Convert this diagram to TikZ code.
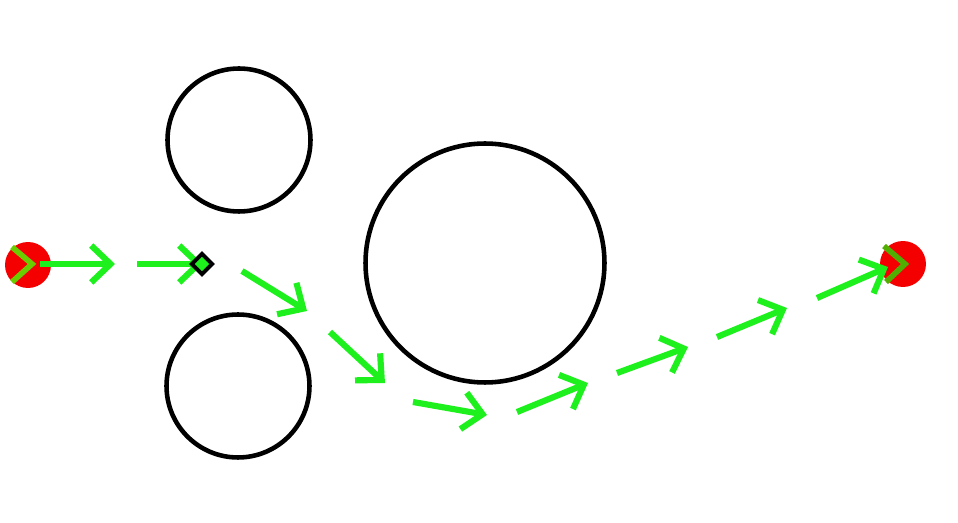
\documentclass[tikz,border=0pt]{standalone}
\usepackage{tikz}
\usetikzlibrary{arrows.meta,shapes.geometric,positioning}
\definecolor{pathgreen}{RGB}{30,240,30}
\definecolor{dotred}{RGB}{245,0,0}
\definecolor{tipgreen}{RGB}{105,205,0}
\definecolor{tipdark}{RGB}{80,175,0}

\begin{document}
\begin{tikzpicture}[x=0.02cm,y=-0.02cm,
  obstacle/.style={draw,circle,line width=2.6pt,inner sep=0pt},
  endpoint/.style={circle,fill=dotred,inner sep=0pt,minimum size=0.92cm},
  leg/.style={pathgreen,line width=3.5pt,-{Straight Barb[length=11pt,width=21pt]}},
  chev/.style={line width=3.2pt,line join=miter}]
\useasboundingbox (0,0) rectangle (958,523);
% obstacles
\node[obstacle,minimum size=2.86cm] (obsA) at (239,140) {};
\node[obstacle,minimum size=2.86cm] (obsB) at (238,386) {};
\node[obstacle,minimum size=4.78cm] (obsC) at (485,263) {};
% start and goal
\node[endpoint] (start) at (28,265) {};
\node[endpoint] (goal) at (903,264) {};
\draw[chev,tipgreen] (12,247) -- (32,264) -- (12,282);
% legs of the path
\coordinate (p1) at (40,264);  \coordinate (q1) at (115,264);
\coordinate (p2) at (137,264); \coordinate (q2) at (203,264);
\coordinate (p3) at (242,271); \coordinate (q3) at (307,311);
\coordinate (p4) at (330,332); \coordinate (q4) at (385,383);
\coordinate (p5) at (413,402); \coordinate (q5) at (487,415);
\coordinate (p6) at (517,412); \coordinate (q6) at (588,383);
\coordinate (p7) at (617,373); \coordinate (q7) at (688,347);
\coordinate (p8) at (717,337); \coordinate (q8) at (787,308);
\coordinate (p9) at (817,298); \coordinate (q9) at (888,267);
\draw[leg] (p1) -- (q1);
\draw[leg] (p2) -- (q2);
\draw[leg] (p3) -- (q3);
\draw[leg] (p4) -- (q4);
\draw[leg] (p5) -- (q5);
\draw[leg] (p6) -- (q6);
\draw[leg] (p7) -- (q7);
\draw[leg] (p8) -- (q8);
\draw[leg] (p9) -- (q9);
\draw[chev,tipdark] (884,246) -- (905,264) -- (886,282);
% waypoint
\node[diamond,draw,line width=2.2pt,fill=pathgreen,inner sep=0pt,minimum size=0.44cm] (wp) at (202,264) {};
\end{tikzpicture}
\end{document}
